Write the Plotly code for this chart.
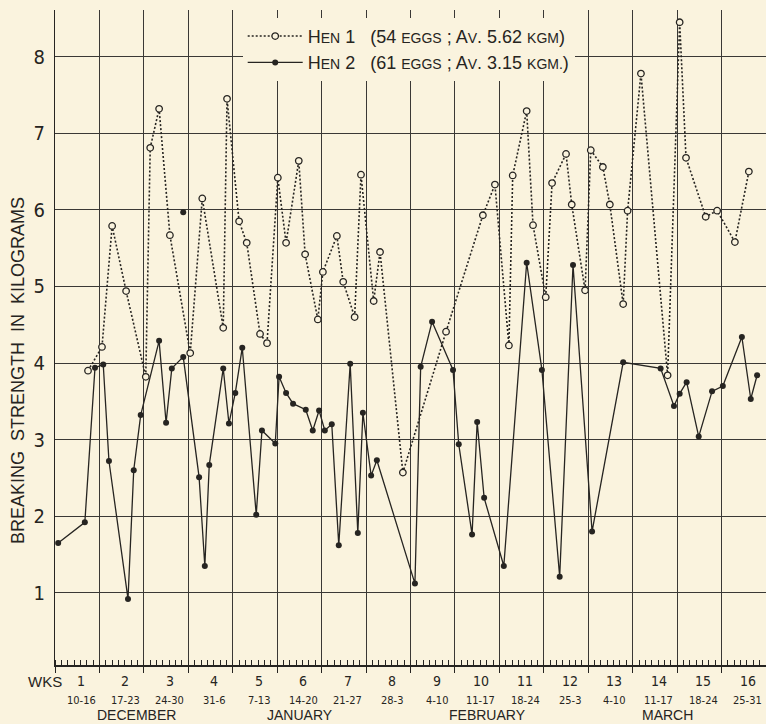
import plotly.graph_objects as go

# ---- data (x = days from Dec 10; y = breaking strength, kg) ----
hen1_day = [5.2, 7.4, 9.0, 11.2, 14.3, 15.0, 16.4, 18.1, 21.3, 23.2,
            26.5, 27.1, 29.0, 30.2, 32.3, 33.4, 35.1, 36.4, 38.4, 39.4,
            41.4, 42.2, 44.4, 45.4, 47.2, 48.2, 50.2, 51.2, 54.8, 61.6,
            67.4, 69.3, 71.5, 72.1, 74.3, 75.3, 77.3, 78.3, 80.5, 81.4,
            83.5, 84.4, 86.3, 87.4, 89.5, 90.2, 92.3, 96.5, 98.4, 99.4,
            102.5, 104.3, 107.1, 109.3]
hen1_kg = [3.90, 4.21, 5.79, 4.94, 3.82, 6.81, 7.32, 5.67, 4.13, 6.15,
           4.46, 7.45, 5.85, 5.57, 4.38, 4.26, 6.42, 5.57, 6.64, 5.42,
           4.57, 5.19, 5.66, 5.06, 4.60, 6.46, 4.81, 5.45, 2.57, 4.41,
           5.93, 6.33, 4.23, 6.45, 7.29, 5.80, 4.86, 6.35, 6.73, 6.07,
           4.95, 6.78, 6.56, 6.07, 4.77, 5.99, 7.78, 3.84, 8.45, 6.68,
           5.91, 5.99, 5.58, 6.50]

hen2_day = [0.5, 4.7, 6.3, 7.6, 8.5, 11.5, 12.4, 13.5, 16.4, 17.5,
            18.4, 20.2, 22.7, 23.6, 24.3, 26.5, 27.4, 28.4, 29.5, 31.7,
            32.6, 34.7, 35.3, 36.4, 37.5, 39.5, 40.6, 41.6, 42.5, 43.6,
            44.7, 46.5, 47.7, 48.5, 49.8, 50.7, 56.7, 57.6, 59.4, 62.7,
            63.6, 65.7, 66.5, 67.6, 70.7, 74.3, 76.7, 79.5, 81.6, 84.6,
            89.5, 95.4, 97.5, 98.4, 99.5, 101.4, 103.5, 105.2, 108.2, 109.6,
            110.6]
hen2_kg = [1.65, 1.92, 3.94, 3.98, 2.72, 0.92, 2.60, 3.32, 4.29, 3.22,
           3.93, 4.08, 2.51, 1.35, 2.67, 3.93, 3.21, 3.61, 4.20, 2.02,
           3.12, 2.95, 3.82, 3.61, 3.47, 3.39, 3.12, 3.38, 3.12, 3.20,
           1.62, 3.99, 1.78, 3.35, 2.53, 2.73, 1.12, 3.95, 4.54, 3.91,
           2.94, 1.76, 3.23, 2.24, 1.35, 5.31, 3.91, 1.21, 5.28, 1.80,
           4.01, 3.93, 3.44, 3.60, 3.75, 3.04, 3.63, 3.70, 4.34, 3.53,
           3.84]

stray_day = [20.2]
stray_kg = [5.97]

week_numbers = [str(i) for i in range(1, 17)]
week_dates = ["10-16", "17-23", "24-30", "31-6", "7-13", "14-20", "21-27", "28-3",
              "4-10", "11-17", "18-24", "25-3", "4-10", "11-17", "18-24", "25-31"]
months = ["DECEMBER", "JANUARY", "FEBRUARY", "MARCH"]
month_centers = [12.8, 38.6, 68.2, 96.5]
y_ticks = [1, 2, 3, 4, 5, 6, 7, 8]

SC = "<span style='font-size:14px'>%s</span>"
hen1_label = ("H" + SC % "EN" + " 1&nbsp;&nbsp; (54 " + SC % "EGGS" + "&nbsp;; A" + SC % "V"
              + ". 5.62 " + SC % "KGM" + ")")
hen2_label = ("H" + SC % "EN" + " 2&nbsp;&nbsp; (61 " + SC % "EGGS" + "&nbsp;; A" + SC % "V"
              + ". 3.15 " + SC % "KGM." + ")")

BG = "#FAF3DE"
INK = "#262421"
GRID = "#3a3835"
FONT = "Liberation Sans Narrow, DejaVu Sans Condensed, Liberation Sans, sans-serif"
WIDE = "Liberation Sans, Arial, sans-serif"

fig = go.Figure()
fig.add_trace(go.Scatter(
    x=hen1_day, y=hen1_kg, mode="lines+markers", name=hen1_label,
    line=dict(color=INK, width=1.6, dash="2px,2px"),
    marker=dict(symbol="circle", size=6.5, color=BG, line=dict(color=INK, width=1.3)),
))
fig.add_trace(go.Scatter(
    x=hen2_day, y=hen2_kg, mode="lines+markers", name=hen2_label,
    line=dict(color=INK, width=1.3),
    marker=dict(symbol="circle", size=6, color=INK),
))
fig.add_trace(go.Scatter(
    x=stray_day, y=stray_kg, mode="markers", showlegend=False,
    marker=dict(symbol="circle", size=6, color=INK),
))

ann = []
for i, (wn, wd) in enumerate(zip(week_numbers, week_dates)):
    cx = 7 * i + 3.5 + 0.6
    ann.append(dict(x=cx, y=0, xref="x", yref="paper", text=wn, showarrow=False,
                    yanchor="middle", yshift=-16, font=dict(size=14, family=FONT, color=INK)))
    ann.append(dict(x=cx, y=0, xref="x", yref="paper", text=wd, showarrow=False,
                    yanchor="middle", yshift=-35, font=dict(size=11, family=FONT, color=INK)))
for m, c in zip(months, month_centers):
    ann.append(dict(x=c, y=0, xref="x", yref="paper", text=m, showarrow=False,
                    yanchor="middle", yshift=-50, font=dict(size=14, family=WIDE, color=INK)))
ann.append(dict(x=-0.0134, y=0, xref="paper", yref="paper", text="WKS", showarrow=False,
                xanchor="center", yanchor="middle", yshift=-16,
                font=dict(size=15, family=WIDE, color=INK)))
ann.append(dict(x=-0.052, y=0.449, xref="paper", yref="paper",
                text="BREAKING&nbsp; STRENGTH&nbsp; IN&nbsp; KILOGRAMS",
                showarrow=False, textangle=-90, xanchor="center", yanchor="middle",
                font=dict(size=18, family=WIDE, color=INK)))

fig.update_layout(
    width=766, height=724,
    margin=dict(l=55, r=0, t=10, b=59),
    paper_bgcolor=BG, plot_bgcolor=BG,
    font=dict(family=FONT, color=INK),
    showlegend=True,
    legend=dict(x=0.264, y=0.988, xanchor="left", yanchor="top", bgcolor=BG,
                borderwidth=0, font=dict(size=18, family=WIDE, color=INK),
                itemwidth=55, tracegroupgap=0),
    annotations=ann,
)
fig.update_xaxes(
    range=[0, 112], tickvals=[7 * k for k in range(17)], showticklabels=False,
    showgrid=True, gridcolor=GRID, gridwidth=1,
    ticks="outside", ticklen=6, tickcolor=INK, tickwidth=1.3,
    minor=dict(dtick=1, tick0=0, ticks="inside", ticklen=5, tickcolor=INK, tickwidth=1, showgrid=False),
    showline=True, linecolor=INK, linewidth=2.2, zeroline=False,
)
fig.update_yaxes(
    range=[0.057, 8.61], tickvals=y_ticks, ticktext=[str(v) for v in y_ticks],
    showgrid=True, gridcolor=GRID, gridwidth=1, ticks="", ticklabelstandoff=5,
    tickfont=dict(size=20, family=FONT, color=INK),
    showline=True, linecolor=INK, linewidth=1.2, zeroline=False,
)

fig.write_html("out.html", config={"displayModeBar": False},
               post_script="document.body.style.margin='0';document.body.style.background='%s';" % BG)
